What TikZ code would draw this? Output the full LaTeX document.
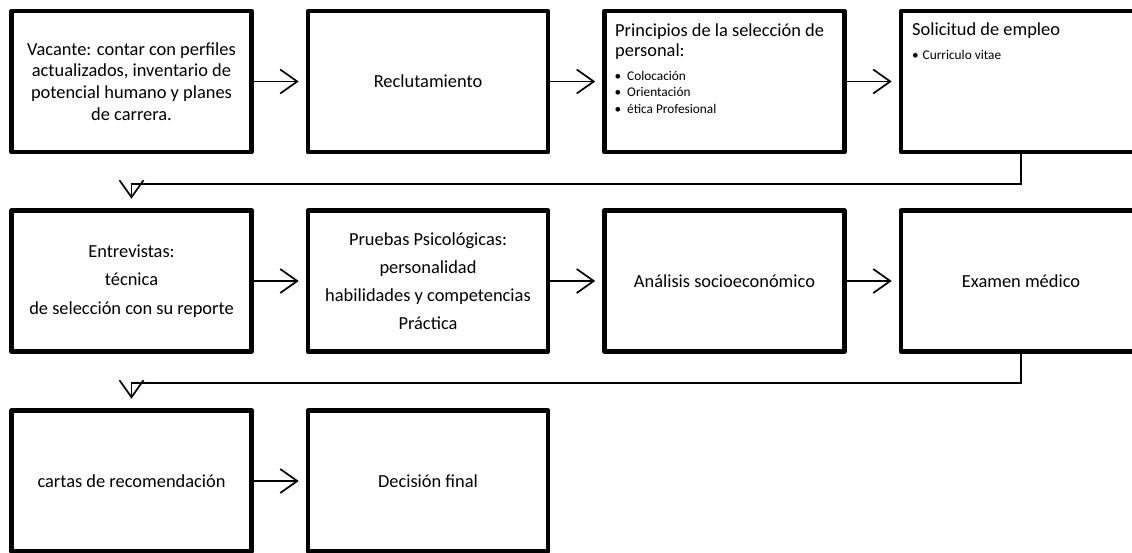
\documentclass[tikz,border=0pt]{standalone}
\usepackage{fontspec}
\setmainfont{Carlito}
\usetikzlibrary{arrows.meta}
\begin{document}
\begin{tikzpicture}[x=1pt,y=-1pt,
  stepbox/.style={draw=black, line width=4.6pt, line join=round,
    minimum width=240pt, minimum height=141pt, inner sep=0pt,
    align=center, font=\fontsize{18.4}{21.7}\selectfont},
  widelines/.style={font=\fontsize{18.4}{28.2}\selectfont},
  title/.style={anchor=base west, inner sep=0pt, font=\fontsize{18.4}{21.7}\selectfont},
  item/.style={anchor=base west, inner sep=0pt, font=\fontsize{13.3}{16.5}\selectfont},
  flow/.style={line width=1.7pt,
    -{Straight Barb[length=17pt,width=24pt]}, shorten >=7pt},
  wrap/.style={flow, shorten >=9.5pt}]

\useasboundingbox (0,0) rectangle (1132,552);
\clip (0,0) rectangle (1132,552);

% first row
\node[stepbox] (a1) at (131.5,81.5) {Vacante: contar con perfiles\\actualizados, inventario de\\potencial humano y planes\\de carrera.};
\node[stepbox] (a2) at (428,81.5) {Reclutamiento};
\node[stepbox] (a3) at (724.5,81.5) {};
\node[stepbox] (a4) at (1021,81.5) {};

\node[title] (a3l1) at (615,36) {Principios de la selección de};
\node[title] (a3l2) at (615,56.5) {personal:};
\node[item] (a3i1) at (614.5,80) {\makebox[12.5pt][l]{•}Colocación};
\node[item] (a3i2) at (614.5,96.5) {\makebox[12.5pt][l]{•}Orientación};
\node[item] (a3i3) at (614.5,113) {\makebox[12.5pt][l]{•}ética Profesional};

\node[title] (a4l1) at (912,35.5) {Solicitud de empleo};
\node[item] (a4i1) at (912,59) {\makebox[10.5pt][l]{•}Curriculo vitae};

% second row
\node[stepbox, widelines] (b1) at (131.5,281) {Entrevistas:\\técnica\\de selección con su reporte};
\node[stepbox, widelines] (b2) at (428,281) {Pruebas Psicológicas:\\personalidad\\habilidades y competencias\\Práctica};
\node[stepbox] (b3) at (724.5,281) {Análisis socioeconómico};
\node[stepbox] (b4) at (1021,281) {Examen médico};

% third row
\node[stepbox] (c1) at (131.5,481) {cartas de recomendación};
\node[stepbox] (c2) at (428,481) {Decisión final};

% connectors
\draw[flow] (a1) -- (a2);
\draw[flow] (a2) -- (a3);
\draw[flow] (a3) -- (a4);
\draw[wrap] (a4.south) -- ++(0,29.5) -| (b1.north);
\draw[flow] (b1) -- (b2);
\draw[flow] (b2) -- (b3);
\draw[flow] (b3) -- (b4);
\draw[wrap] (b4.south) -- ++(0,29.5) -| (c1.north);
\draw[flow] (c1) -- (c2);
\end{tikzpicture}
\end{document}
